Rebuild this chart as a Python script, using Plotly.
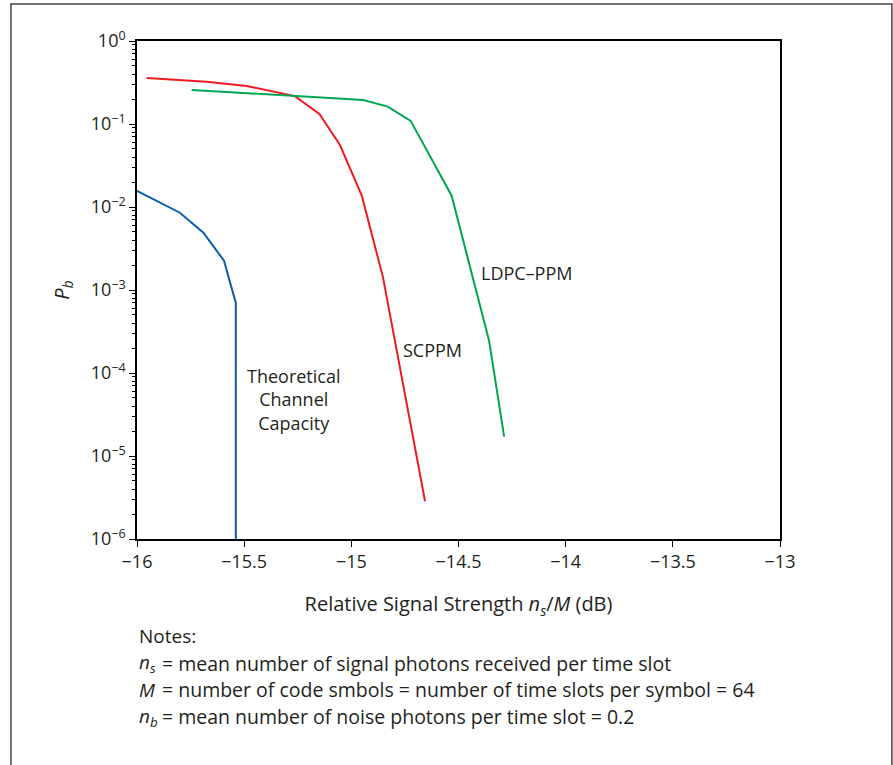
import plotly.graph_objects as go

# Bit error probability vs relative signal strength
cap_x = [-16.0, -15.80, -15.69, -15.594, -15.539, -15.539]
cap_y = [0.0156, 0.00853, 0.0049, 0.00225, 7.0e-4, 1.0e-6]

scppm_x = [-15.955, -15.675, -15.488, -15.263, -15.149, -15.053, -14.951, -14.853, -14.656]
scppm_y = [0.358, 0.323, 0.287, 0.217, 0.132, 0.0558, 0.0136, 0.00145, 2.85e-6]

ldpc_x = [-15.745, -15.263, -14.944, -14.830, -14.723, -14.532, -14.357, -14.287]
ldpc_y = [0.257, 0.217, 0.195, 0.162, 0.109, 0.0137, 2.43e-4, 1.71e-5]

y_exps = [0, -1, -2, -3, -4, -5, -6]
x_ticks = [-16, -15.5, -15, -14.5, -14, -13.5, -13]

font = "Open Sans"
ink = "#231f20"

fig = go.Figure()
fig.add_trace(go.Scatter(x=cap_x, y=cap_y, mode="lines",
                         line=dict(color="#0b5cad", width=2)))
fig.add_trace(go.Scatter(x=scppm_x, y=scppm_y, mode="lines",
                         line=dict(color="#ed1c24", width=2)))
fig.add_trace(go.Scatter(x=ldpc_x, y=ldpc_y, mode="lines",
                         line=dict(color="#00a651", width=2)))

# minor log ticks at 2..9 of every decade
minor_vals = [d * 10.0 ** e for e in range(-6, 0) for d in range(2, 10)]

fig.update_xaxes(range=[-16, -13], tickvals=x_ticks,
                 ticktext=[str(v).replace("-", "\u2212") for v in x_ticks],
                 ticks="outside", ticklen=6, tickcolor="black",
                 showline=True, linecolor="black", linewidth=1.5, mirror=True,
                 showgrid=False, zeroline=False,
                 title=dict(text="Relative Signal Strength <i>n<sub>s</sub></i>/<i>M</i> (dB)",
                            font=dict(family=font, size=20, color=ink), standoff=25))
fig.update_yaxes(type="log", range=[-6, 0],
                 tickvals=[10 ** e for e in y_exps],
                 ticktext=["10<sup>%s</sup>" % str(e).replace("-", "\u2212") for e in y_exps],
                 ticks="outside", ticklen=6, tickcolor="black",
                 minor=dict(tickmode="array", tickvals=minor_vals, ticks="outside",
                            ticklen=3, tickcolor="black", showgrid=False),
                 showline=True, linecolor="black", linewidth=1.5, mirror=True,
                 showgrid=False, zeroline=False,
                 title=dict(text="<i>P<sub>b</sub></i>",
                            font=dict(family=font, size=20, color=ink), standoff=16))

# curve labels
fig.add_annotation(x=-15.272, y=-4.325, text="Theoretical<br>Channel<br>Capacity",
                   showarrow=False, align="center")
fig.add_annotation(x=-14.619, y=-3.723, text="SCPPM", showarrow=False)
fig.add_annotation(x=-14.185, y=-2.792, text="LDPC\u2013PPM", showarrow=False)

# notes underneath
notes = [("Notes:", ""),
         ("<i>n<sub>s</sub></i>", "= mean number of signal photons received per time slot"),
         ("<i>M</i>", "= number of code smbols = number of time slots per symbol = 64"),
         ("<i>n<sub>b</sub></i>", "= mean number of noise photons per time slot = 0.2")]
for i, (sym, txt) in enumerate(notes):
    yy = -0.195 - i * 0.054
    fig.add_annotation(xref="paper", yref="paper", x=0, y=yy, text=sym,
                       font=dict(size=19), showarrow=False,
                       xanchor="left", yanchor="middle")
    if txt:
        fig.add_annotation(xref="paper", yref="paper", x=0.0358, y=yy, text=txt,
                           font=dict(size=19.5), showarrow=False,
                           xanchor="left", yanchor="middle")

# outer frame
fig.add_shape(type="rect", xref="paper", yref="paper",
              x0=-0.196, x1=1.174, y0=-0.47, y1=1.0743,
              line=dict(color="#444444", width=1.5), layer="below")

fig.update_layout(width=893, height=765,
                  margin=dict(l=137, r=113, t=41, b=226),
                  plot_bgcolor="white", paper_bgcolor="white",
                  showlegend=False,
                  font=dict(family=font, size=18, color=ink))

# drop the default page margin so the figure sits at the window's corner
fig.write_html("out.html", config={"displayModeBar": False},
               post_script="document.body.style.margin = '0';")
